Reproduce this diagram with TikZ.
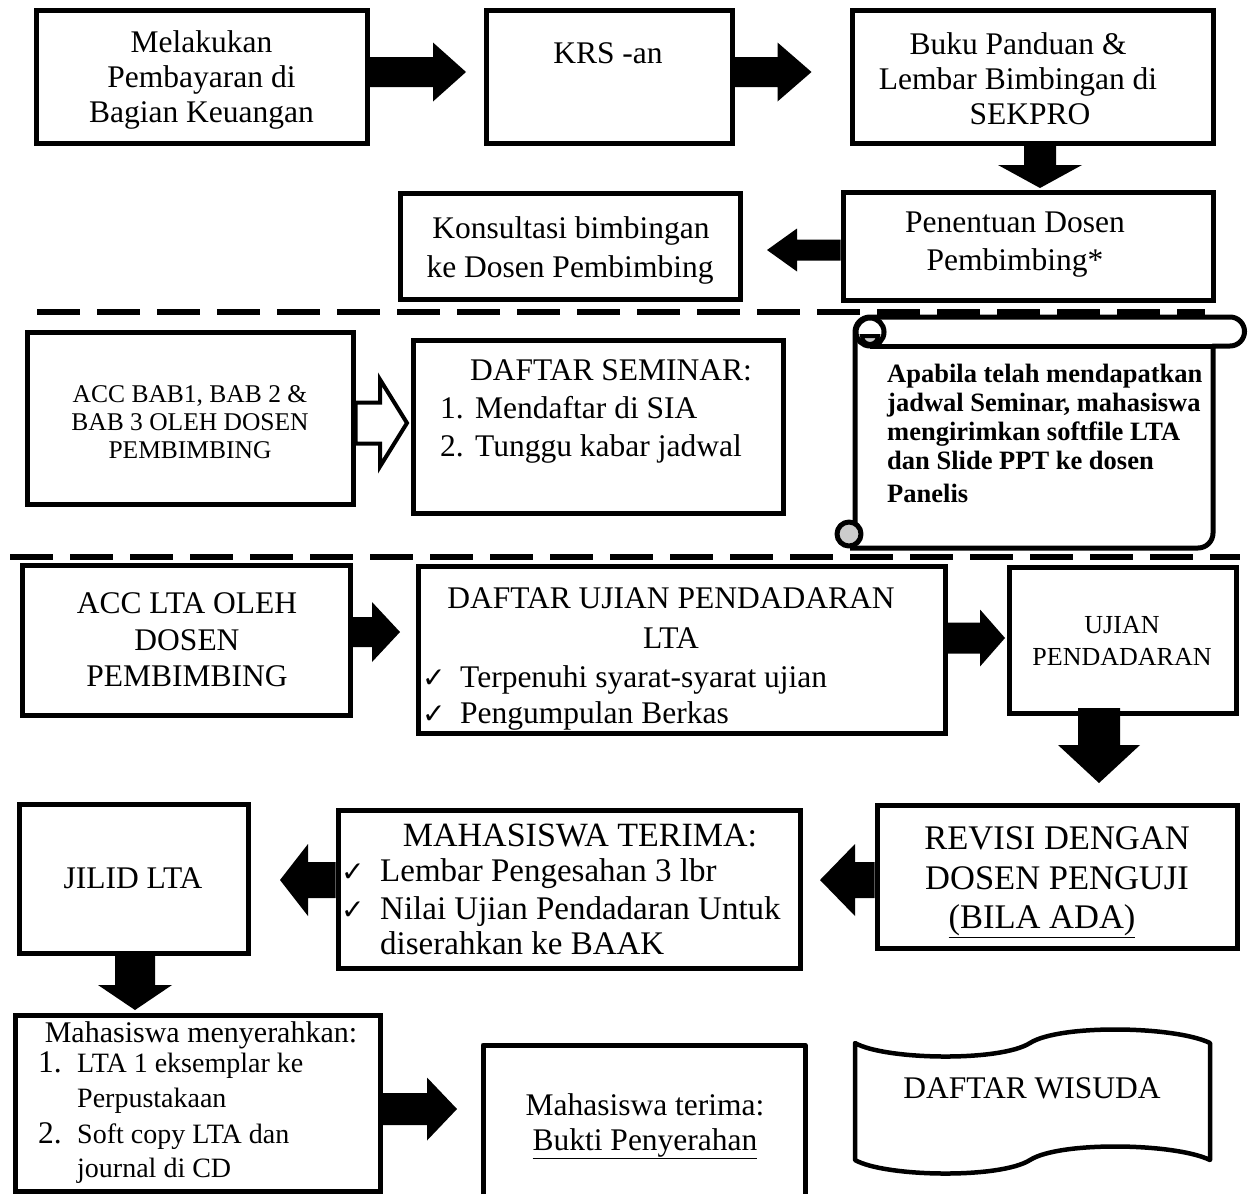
\documentclass[tikz,border=0pt]{standalone}
\usepackage{fontspec}
\setmainfont{Liberation Serif}
\newfontfamily\symfont{DejaVu Sans}
\usetikzlibrary{calc}
\newcommand\setfs[1]{\fontsize{#1}{#1}\selectfont}
\newcommand\chk{{\symfont\setfs{28}✓}}
\newcommand\mkbox[6][]{\node[box,#1,minimum width={(#5-#3)*1pt},minimum height={(#6-#4)*1pt}] (#2) at ({(#3+#5)/2},{-(#4+#6)/2}) {};}
\newcommand\blockarr[6][]{%
  \path[#1] let \p1=(#2), \p2=(#3), \n1={atan2(\y2-\y1,\x2-\x1)}, \n2={veclen(\x2-\x1,\y2-\y1)} in
    {[shift={(\p1)}, rotate=\n1] (0,#4) -- ({\n2-#6},#4) -- ({\n2-#6},#5) -- (\n2,0) -- ({\n2-#6},-#5) -- ({\n2-#6},-#4) -- (0,-#4) -- cycle};}
\tikzset{
  box/.style={draw=black, line width=5pt, fill=white, inner sep=0pt},
  solidarr/.style={fill=black},
  hollowarr/.style={fill=white, draw=black, line width=4pt, line join=miter},
  dashline/.style={line width=6pt, dash pattern=on 43pt off 17pt},
  t/.style={inner sep=0pt, anchor=base, font=\setfs{31.5}},
  tl/.style={t, anchor=base west},
  shape line/.style={line width=5pt, line join=round}
}
\begin{document}
\begin{tikzpicture}[x=1pt,y=1pt]
\useasboundingbox (0,0) rectangle (1249,-1194);
\fill[white] (0,0) rectangle (1249,-1194);

% dashed separators
\coordinate (d1a) at (37,-312);
\coordinate (d1b) at (1205,-312);
\coordinate (d2a) at (10,-557);
\coordinate (d2b) at (1240,-557);
\draw[dashline] (d1a) -- (d1b);
\draw[dashline] (d2a) -- (d2b);

% boxes
\mkbox{A}{36}{10}{367}{143}
\mkbox{B}{486}{10}{732}{143}
\mkbox{C}{852}{10}{1213}{143}
\mkbox{D}{843}{192}{1213}{300}
\mkbox{K}{400}{193}{740}{299}
\mkbox{E}{27}{332}{353}{504}
\mkbox{F}{413}{340}{783}{513}
\mkbox{G}{22}{565}{350}{715}
\mkbox{H}{418}{566}{945}{733}
\mkbox{I}{1009}{567}{1236}{713}
\mkbox{J}{877}{805}{1237}{948}
\mkbox{M}{338}{810}{800}{968}
\mkbox{L}{19}{804}{248}{953}
\mkbox{N}{15}{1015}{380}{1191}
\mkbox[draw=none,outer sep=0pt]{O}{483}{1045}{805}{1194}
\draw[shape line] (O.south west) |- (O.north east) -- (O.south east);

% scroll
\draw[shape line, fill=white] (855,-533) -- (855,-332) arc[start angle=180,end angle=90,radius=15]
  -- (1230,-317) arc[start angle=90,end angle=-90,radius=14.5] -- (1213,-346) -- (1213,-533)
  arc[start angle=0,end angle=-90,radius=15] -- (850,-548);
\draw[shape line] (1213,-346) -- (870,-346);
\draw[shape line, fill=white] (870,-332) circle[radius=14];
\draw[line width=4pt, fill=gray!40] (878,-336) arc[start angle=0,end angle=-180,radius=8] -- cycle;
\draw[shape line, fill=gray!40] (849,-534) circle[radius=12];

% wave
\draw[line width=4.5pt, line join=round, fill=white] (855,-1043) .. controls (885,-1060) and (1000,-1062) .. (1030,-1043)
  .. controls (1060,-1024) and (1175,-1026) .. (1210,-1043) -- (1210,-1160)
  .. controls (1175,-1143) and (1060,-1141) .. (1030,-1160)
  .. controls (1000,-1179) and (885,-1177) .. (855,-1160) -- cycle;

% texts
\node[t] (a1) at (201.5,-52.4) {Melakukan};
\node[t] (a2) at (201.5,-87.4) {Pembayaran di};
\node[t] (a3) at (201.5,-122.4) {Bagian Keuangan};
\node[t] (b1) at (608,-63) {KRS -an};
\node[t] (c1) at (1018,-54) {Buku Panduan \&};
\node[t] (c2) at (1018,-89) {Lembar Bimbingan di};
\node[t] (c3) at (1030,-124) {SEKPRO};
\node[t] (d1) at (1015,-232) {Penentuan Dosen};
\node[t] (d2) at (1015,-270) {Pembimbing*};
\node[t] (k1) at (571,-238) {Konsultasi bimbingan};
\node[t] (k2) at (570,-277) {ke Dosen Pembimbing};
\node[t, font=\setfs{25.5}] (e1) at (190,-402) {ACC BAB1, BAB 2 \&};
\node[t, font=\setfs{25.5}] (e2) at (190,-430) {BAB 3 OLEH DOSEN};
\node[t, font=\setfs{25.5}] (e3) at (190,-458) {PEMBIMBING};
\node[t] (f0) at (611,-380) {DAFTAR SEMINAR:};
\node[tl] (f1n) at (440,-418) {1.};
\node[tl] (f1) at (475,-418) {Mendaftar di SIA};
\node[tl] (f2n) at (440,-456) {2.};
\node[tl] (f2) at (475,-456) {Tunggu kabar jadwal};
\node[tl, font=\setfs{26.5}\bfseries] (s1) at (887,-382) {Apabila telah mendapatkan};
\node[tl, font=\setfs{26.5}\bfseries] (s2) at (887,-411) {jadwal Seminar, mahasiswa};
\node[tl, font=\setfs{26.5}\bfseries] (s3) at (887,-440) {mengirimkan softfile LTA};
\node[tl, font=\setfs{26.5}\bfseries] (s4) at (887,-469) {dan Slide PPT ke dosen};
\node[tl, font=\setfs{26.5}\bfseries] (s5) at (887,-502) {Panelis};
\node[t] (g1) at (187,-613) {ACC LTA OLEH};
\node[t] (g2) at (187,-650) {DOSEN};
\node[t] (g3) at (187,-686) {PEMBIMBING};
\node[t] (h1) at (671,-608) {DAFTAR UJIAN PENDADARAN};
\node[t] (h2) at (671,-648) {LTA};
\node[tl] (h3c) at (422,-687) {\chk};
\node[tl] (h3) at (460,-687) {Terpenuhi syarat-syarat ujian};
\node[tl] (h4c) at (422,-723) {\chk};
\node[tl] (h4) at (460,-723) {Pengumpulan Berkas};
\node[t, font=\setfs{26}] (i1) at (1122,-633) {UJIAN};
\node[t, font=\setfs{26}] (i2) at (1122,-665) {PENDADARAN};
\node[t, font=\setfs{34.5}] (j1) at (1057,-849) {REVISI DENGAN};
\node[t, font=\setfs{34.5}] (j2) at (1057,-889) {DOSEN PENGUJI};
\node[t, font=\setfs{34.5}] (j3) at (1042,-928) {\underline{(BILA ADA)}};
\node[t, font=\setfs{34}] (m0) at (580,-846) {MAHASISWA TERIMA:};
\node[tl] (m1c) at (341,-881) {\chk};
\node[tl, font=\setfs{33}] (m1) at (380,-881) {Lembar Pengesahan 3 lbr};
\node[tl] (m2c) at (341,-919) {\chk};
\node[tl, font=\setfs{33}] (m2) at (380,-919) {Nilai Ujian Pendadaran Untuk};
\node[tl, font=\setfs{33}] (m3) at (380,-954) {diserahkan ke BAAK};
\node[t] (l1) at (133,-888) {JILID LTA};
\node[t, font=\setfs{30}] (n0) at (201,-1042) {Mahasiswa menyerahkan:};
\node[tl] (n1n) at (38,-1072) {1.};
\node[tl, font=\setfs{28}] (n1) at (77,-1072) {LTA 1 eksemplar ke};
\node[tl, font=\setfs{28}] (n1b) at (77,-1107) {Perpustakaan};
\node[tl] (n2n) at (38,-1143) {2.};
\node[tl, font=\setfs{28}] (n2) at (77,-1143) {Soft copy LTA dan};
\node[tl, font=\setfs{28}] (n2b) at (77,-1177) {journal di CD};
\node[t] (o1) at (645,-1115) {Mahasiswa terima:};
\node[t] (o2) at (645,-1150) {\underline{Bukti Penyerahan}};
\node[t] (w1) at (1032,-1098) {DAFTAR WISUDA};

% block arrows
\blockarr[solidarr]{[yshift=4.5pt]A.east}{[xshift=-17.5pt,yshift=4.5pt]B.west}{15}{29.5}{33}
\blockarr[solidarr]{[yshift=4.5pt]B.east}{[xshift=-38pt,yshift=4.5pt]C.west}{15}{29.5}{34}
\blockarr[solidarr]{[xshift=7.5pt]C.south}{[xshift=12pt,yshift=1.5pt]D.north}{16}{42}{23}
\blockarr[solidarr]{[yshift=-4pt]D.west}{[xshift=24.5pt,yshift=-4pt]K.east}{10.5}{21.5}{30}
\blockarr[hollowarr]{[yshift=-5pt]E.east}{[xshift=-3.5pt,yshift=3.5pt]F.west}{20.5}{43.5}{27}
\blockarr[solidarr]{[yshift=8pt]G.east}{[xshift=-15.5pt,yshift=17.5pt]H.west}{15}{30}{28}
\blockarr[solidarr]{[yshift=11.5pt]H.east}{[xshift=-1.5pt,yshift=2pt]I.west}{15.5}{28.5}{25}
\blockarr[solidarr]{[xshift=-23.5pt,yshift=7.5pt]I.south}{[xshift=42pt,yshift=19.5pt]J.north}{21}{41}{38}
\blockarr[solidarr]{[yshift=-3.5pt]J.west}{[xshift=17.5pt,yshift=9pt]M.east}{18}{36}{35}
\blockarr[solidarr]{[yshift=9pt]M.west}{[xshift=29.5pt,yshift=-1.5pt]L.east}{18}{36}{28}
\blockarr[solidarr]{[xshift=1.5pt]L.south}{[xshift=-62.5pt,yshift=2.5pt]N.north}{20}{37}{25}
\blockarr[solidarr]{[yshift=-6pt]N.east}{[xshift=-26pt,yshift=10.5pt]O.west}{16}{31.5}{30}
\end{tikzpicture}
\end{document}
